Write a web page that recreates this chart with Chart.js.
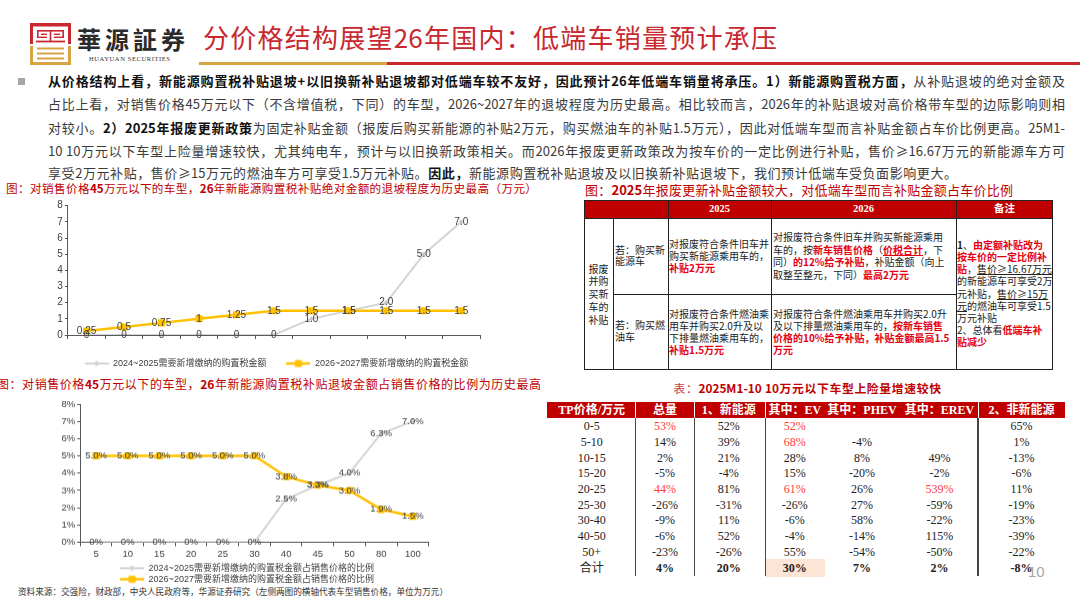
<!DOCTYPE html>
<html><head><meta charset="utf-8">
<script src="https://cdn.jsdelivr.net/npm/chart.js@4.4.1/dist/chart.umd.min.js"></script>
<style>
html,body{margin:0;padding:0;width:1080px;height:597px;overflow:hidden;background:#fff;font-family:"Noto Sans CJK SC",sans-serif;}
.abs{position:absolute;}
.jl{text-align:justify;text-align-last:justify;white-space:normal;overflow:hidden;}
.body{font-size:13px;line-height:18px;height:18px;color:#3a3a3a;}
.body b{color:#111;font-weight:bold;}
.cap{font-size:12px;line-height:16px;height:16px;color:#c00000;}
.t{position:absolute;font-size:10px;line-height:12px;white-space:nowrap;color:#222;}
.r{color:#e60012;font-weight:bold;}
.u{text-decoration:underline;}
.hd{position:absolute;font-family:"Liberation Serif","Noto Sans CJK SC",serif;font-weight:bold;color:#fff;font-size:10.5px;line-height:12px;text-align:center;white-space:nowrap;}
.ln{position:absolute;background:#222;}
.cell{position:absolute;width:80px;text-align:center;font-family:"Liberation Serif","Noto Sans CJK SC",serif;font-size:12px;line-height:14px;color:#222;white-space:nowrap;}
.th{position:absolute;width:90px;text-align:center;font-family:"Liberation Serif","Noto Sans CJK SC",serif;font-size:12px;line-height:14px;color:#fff;font-weight:bold;white-space:nowrap;}
</style></head><body>

<!-- logo -->
<div class="abs" style="left:30px;top:23px;width:41px;height:42px;">
<svg width="41" height="42" viewBox="0 0 41 42">
  <g fill="#c8282e">
    <rect x="0" y="0" width="41" height="3.5"/>
    <rect x="0" y="0" width="3" height="21"/>
    <rect x="38" y="0" width="3" height="21"/>
    <rect x="7" y="7" width="27" height="1.6"/>
    <rect x="7" y="7" width="1.6" height="7.5"/>
    <rect x="32.4" y="7" width="1.6" height="7.5"/>
    <rect x="19.7" y="7" width="1.6" height="11"/>
    <rect x="11" y="10.6" width="6" height="1.4"/>
    <rect x="24" y="10.6" width="6" height="1.4"/>
    <rect x="7" y="13.6" width="10" height="1.4"/>
    <rect x="24" y="13.6" width="10" height="1.4"/>
    <rect x="6" y="17.6" width="29" height="1.8"/>
  </g>
  <g fill="#d6a443">
    <rect x="0" y="23" width="3" height="19"/>
    <rect x="38" y="23" width="3" height="19"/>
    <rect x="7" y="24.5" width="27" height="2"/>
    <rect x="7" y="29.5" width="27" height="2"/>
    <rect x="7" y="34.5" width="27" height="2"/>
    <rect x="0" y="39" width="41" height="3"/>
  </g>
</svg></div>
<div class="abs jl" style="left:77px;top:25px;width:108px;height:28px;font-size:24px;line-height:28px;font-weight:bold;color:#2b2b2b;">華源証券</div>
<div class="abs" style="left:89px;top:55px;font-family:'Liberation Serif',serif;font-size:6.5px;line-height:8px;letter-spacing:0.6px;color:#333;white-space:nowrap;">HUAYUAN SECURITIES</div>
<div class="abs jl" style="left:203px;top:21px;width:574px;height:32px;font-size:26px;line-height:32px;color:#c8282e;">分价格结构展望26年国内：低端车销量预计承压</div>
<div class="abs" style="left:199px;top:62px;width:188px;height:3px;background:#d6a443;"></div>
<div class="abs" style="left:387px;top:62px;width:693px;height:3px;background:#c8282e;"></div>

<!-- body text -->
<div class="abs" style="left:18px;top:78px;width:7px;height:7px;background:#a6a6a6;"></div>
<div class="abs jl body" style="left:48px;top:72px;width:1017px;"><b>从价格结构上看，新能源购置税补贴退坡+以旧换新补贴退坡都对低端车较不友好，因此预计26年低端车销量将承压。1）新能源购置税方面，</b>从补贴退坡的绝对金额及</div>
<div class="abs jl body" style="left:48px;top:95.3px;width:1017px;">占比上看，对销售价格45万元以下（不含增值税，下同）的车型，2026~2027年的退坡程度为历史最高。相比较而言，2026年的补贴退坡对高价格带车型的边际影响则相</div>
<div class="abs jl body" style="left:48px;top:118.7px;width:1017px;">对较小。<b>2）2025年报废更新政策</b>为固定补贴金额（报废后购买新能源的补贴2万元，购买燃油车的补贴1.5万元），因此对低端车型而言补贴金额占车价比例更高。25M1-</div>
<div class="abs jl body" style="left:48px;top:142px;width:1017px;">10 10万元以下车型上险量增速较快，尤其纯电车，预计与以旧换新政策相关。而2026年报废更新政策改为按车价的一定比例进行补贴，售价≥16.67万元的新能源车方可</div>
<div class="abs jl body" style="left:48px;top:164.3px;width:909px;">享受2万元补贴，售价≥15万元的燃油车方可享受1.5万元补贴。<b>因此，</b>新能源购置税补贴退坡及以旧换新补贴退坡下，我们预计低端车受负面影响更大。</div>

<!-- captions -->
<div class="abs jl cap" style="left:6px;top:180px;width:531px;font-size:11.6px;">图：对销售价格<b>45</b>万元以下的车型，<b>26</b>年新能源购置税补贴绝对金额的退坡程度为历史最高（万元）</div>
<div class="abs jl cap" style="left:-3px;top:376px;width:544px;">图：对销售价格<b>45</b>万元以下的车型，<b>26</b>年新能源购置税补贴退坡金额占销售价格的比例为历史最高</div>
<div class="abs jl cap" style="left:585px;top:181.7px;width:428px;font-size:13px;">图：<b>2025</b>年报废更新补贴金额较大，对低端车型而言补贴金额占车价比例更高</div>
<div class="abs jl cap" style="left:673.6px;top:380.3px;width:267.4px;font-size:11.8px;"><span style="color:#c84040;">表：</span><b>2025M1-10 10万元以下车型上险量增速较快</b></div>
<div class="abs jl" style="left:18px;top:585px;width:430px;height:12px;font-size:8.6px;line-height:12px;color:#333;">资料来源：交强险，财政部，中央人民政府等，华源证券研究（左侧两图的横轴代表车型销售价格，单位为万元）</div>

<!-- charts -->
<div class="abs" style="left:0px;top:195px;width:540px;height:183px;"><canvas id="c1"></canvas></div>
<div class="abs" style="left:0px;top:390px;width:540px;height:202.8px;"><canvas id="c2"></canvas></div>

<!-- policy table (top right) -->
<div class="abs" style="left:585px;top:200px;width:468px;height:18px;background:#c00000;"></div>
<div class="abs" style="left:584px;top:199.5px;width:469px;height:170.5px;border:1px solid #222;box-sizing:border-box;"></div>
<div class="ln" style="left:584px;top:218px;width:469px;height:1px;"></div>
<div class="ln" style="left:613px;top:218px;width:1px;height:152px;"></div>
<div class="ln" style="left:668px;top:200px;width:1px;height:170px;"></div>
<div class="ln" style="left:771px;top:200px;width:1px;height:170px;"></div>
<div class="ln" style="left:956px;top:200px;width:1px;height:170px;"></div>
<div class="ln" style="left:613px;top:294px;width:343px;height:1px;"></div>
<div class="hd" style="left:668px;top:202.7px;width:103px;">2025</div>
<div class="hd" style="left:771px;top:202.7px;width:185px;">2026</div>
<div class="hd" style="left:956px;top:202.7px;width:97px;">备注</div>

<div class="t" style="left:584px;width:29px;text-align:center;top:262.7px;">报废</div>
<div class="t" style="left:584px;width:29px;text-align:center;top:275.4px;">并购</div>
<div class="t" style="left:584px;width:29px;text-align:center;top:288.2px;">买新</div>
<div class="t" style="left:584px;width:29px;text-align:center;top:300.9px;">车的</div>
<div class="t" style="left:584px;width:29px;text-align:center;top:313.7px;">补贴</div>

<div class="t" style="left:615px;top:243.7px;">若：购买新</div>
<div class="t" style="left:615px;top:255.3px;">能源车</div>
<div class="t" style="left:615px;top:319.3px;">若：购买燃</div>
<div class="t" style="left:615px;top:331.3px;">油车</div>

<div class="t" style="left:669px;top:237.7px;">对报废符合条件旧车并</div>
<div class="t" style="left:669px;top:250px;">购买新能源乘用车的，</div>
<div class="t" style="left:669px;top:262.3px;"><span class="r">补贴2万元</span></div>
<div class="t" style="left:669px;top:307.5px;">对报废符合条件燃油乘</div>
<div class="t" style="left:669px;top:319.8px;">用车并购买2.0升及以</div>
<div class="t" style="left:669px;top:332.1px;">下排量燃油乘用车的，</div>
<div class="t" style="left:669px;top:344.4px;"><span class="r">补贴1.5万元</span></div>

<div class="t" style="left:773px;top:231.3px;">对报废符合条件旧车并购买新能源乘用</div>
<div class="t" style="left:773px;top:243.7px;">车的，按<span class="r">新车销售价格</span>（<span class="r u">价税合计</span>，下</div>
<div class="t" style="left:773px;top:256.1px;">同）<span class="r">的12%给予补贴</span>，补贴金额（向上</div>
<div class="t" style="left:773px;top:268.5px;">取整至整元，下同）<span class="r">最高2万元</span></div>
<div class="t" style="left:773px;top:307.5px;">对报废符合条件燃油乘用车并购买2.0升</div>
<div class="t" style="left:773px;top:319.8px;">及以下排量燃油乘用车的，<span class="r">按新车销售</span></div>
<div class="t" style="left:773px;top:332.1px;"><span class="r">价格的10%给予补贴，补贴金额最高1.5</span></div>
<div class="t" style="left:773px;top:344.4px;"><span class="r">万元</span></div>

<div class="t" style="left:957px;top:238.7px;"><b>1</b>、<span class="r">由定额补贴改为</span></div>
<div class="t" style="left:957px;top:250.9px;"><span class="r">按车价的一定比例补</span></div>
<div class="t" style="left:957px;top:263.1px;"><span class="r">贴</span>，<span class="u">售价≥16.67万元</span></div>
<div class="t" style="left:957px;top:275.3px;">的新能源车可享受2万</div>
<div class="t" style="left:957px;top:287.5px;">元补贴，<span class="u">售价≥15万</span></div>
<div class="t" style="left:957px;top:299.7px;"><span class="u">元</span>的燃油车可享受1.5</div>
<div class="t" style="left:957px;top:311.9px;">万元补贴</div>
<div class="t" style="left:957px;top:324.1px;">2、总体看<span class="r">低端车补</span></div>
<div class="t" style="left:957px;top:336.3px;"><span class="r">贴减少</span></div>

<!-- insurance growth table (bottom right) -->
<div class="abs" style="left:546.9px;top:402.1px;width:518.2px;height:16.2px;background:#c00000;"></div>
<div class="abs" style="left:765.5px;top:558.8px;width:59.6px;height:17.9px;background:#fce4d6;"></div>
<div id="tp"></div>
<div class="abs" style="left:1028px;top:563px;font-family:'Liberation Sans',sans-serif;font-size:15px;line-height:18px;color:#a6a6a6;">10</div>

<script>
// ---------- chart data ----------
const priceCats = ['5','10','15','20','25','30','40','45','50','80','100'];
const taxAmt2425 = [0, 0, 0, 0, 0, 0, 1.0, 1.5, 2.0, 5.0, 7.0];
const taxAmt2627 = [0.25, 0.5, 0.75, 1, 1.25, 1.5, 1.5, 1.5, 1.5, 1.5, 1.5];
const taxPct2425 = [0, 0, 0, 0, 0, 0, 2.5, 3.3, 4.0, 6.3, 7.0];
const taxPct2627 = [5.0, 5.0, 5.0, 5.0, 5.0, 5.0, 3.8, 3.3, 3.0, 1.9, 1.5];
const seriesNames1 = ['2024~2025需要新增缴纳的购置税金额', '2026~2027需要新增缴纳的购置税金额'];
const seriesNames2 = ['2024~2025需要新增缴纳的购置税金额占销售价格的比例', '2026~2027需要新增缴纳的购置税金额占销售价格的比例'];
const yRange = [0, 8];

// ---------- table data ----------
const tpHeaders = ['TP价格/万元', '总量', '1、新能源', '其中：EV', '其中：PHEV', '其中：EREV', '2、非新能源'];
const tpBands = ['0-5', '5-10', '10-15', '15-20', '20-25', '25-30', '30-40', '40-50', '50+', '合计'];
const tpTotal = ['53%', '14%', '2%', '-5%', '44%', '-26%', '-9%', '-6%', '-23%', '4%'];
const tpNEV   = ['52%', '39%', '21%', '-4%', '81%', '-31%', '11%', '52%', '-26%', '20%'];
const tpEV    = ['52%', '68%', '28%', '15%', '61%', '-26%', '-6%', '-4%', '55%', '30%'];
const tpPHEV  = ['', '-4%', '8%', '-20%', '26%', '27%', '58%', '-14%', '-54%', '7%'];
const tpEREV  = ['', '', '49%', '-2%', '539%', '-59%', '-22%', '115%', '-50%', '2%'];
const tpICE   = ['65%', '1%', '-13%', '-6%', '11%', '-19%', '-23%', '-39%', '-22%', '-8%'];
const tpRed = ['0-1', '0-3', '1-3', '4-1', '4-3', '4-5'];

// ---------- build table ----------
(function () {
  const colX = [591.7, 665, 728.7, 794.8, 862, 939.5, 1021.4];
  const lineX = [635.7, 694.6, 765.5, 978];
  const cols = [tpBands, tpTotal, tpNEV, tpEV, tpPHEV, tpEREV, tpICE];
  let h = '';
  lineX.forEach(x => {
    h += `<div class="abs" style="left:${x - 0.5}px;top:402.1px;width:1px;height:16.2px;background:#fff;"></div>`;
    h += `<div class="abs" style="left:${x - 0.75}px;top:418.3px;width:1.5px;height:157.7px;background:#444;"></div>`;
  });
  tpHeaders.forEach((t, j) => {
    h += `<div class="th" style="left:${colX[j] - 45}px;top:403.2px;">${t}</div>`;
  });
  tpBands.forEach((b, i) => {
    const cy = 426.2 + 15.7 * i;
    cols.forEach((col, j) => {
      const red = tpRed.indexOf(i + '-' + j) >= 0;
      const bold = i === tpBands.length - 1 && j > 0;
      const style = (red ? 'color:#ff3b3b;' : '') + (bold ? 'font-weight:bold;' : '');
      h += `<div class="cell" style="left:${colX[j] - 40}px;top:${cy - 7}px;${style}">${col[i]}</div>`;
    });
  });
  document.getElementById('tp').innerHTML = h;
})();

// ---------- charts ----------
const FNT = '"Liberation Sans", "Noto Sans CJK SC", sans-serif';
const TXT = '#404040';
const AX = '#595959';
const ORANGE = '#ffc000';
const GRAY = '#d4d4d4';
const GRAYM = '#c8c8c8';
Chart.defaults.font.family = FNT;

function legendImg(color, style, lw) {
  const c = document.createElement('canvas');
  c.width = 24; c.height = 10;
  const g = c.getContext('2d');
  g.strokeStyle = color; g.lineWidth = lw;
  g.beginPath(); g.moveTo(0, 5); g.lineTo(24, 5); g.stroke();
  g.fillStyle = color;
  if (style === 'rect') g.fillRect(8.5, 1.5, 7, 7);
  else { g.beginPath(); g.moveTo(12, 2); g.lineTo(15, 5); g.lineTo(12, 8); g.lineTo(9, 5); g.closePath(); g.fill(); }
  return c;
}
const legendImgs = [legendImg(GRAY, 'diamond', 2), legendImg(ORANGE, 'rect', 2.5)];

function legendLabels(chart) {
  const items = Chart.defaults.plugins.legend.labels.generateLabels(chart);
  items.forEach(it => { it.pointStyle = legendImgs[it.datasetIndex]; });
  return items;
}

function pointLabels(fmt, size) {
  return {
    id: 'pointLabels',
    afterDatasetsDraw(chart) {
      const ctx = chart.ctx;
      ctx.save();
      ctx.font = size + 'px "Liberation Sans", sans-serif';
      ctx.fillStyle = TXT;
      ctx.textAlign = 'center';
      ctx.textBaseline = 'middle';
      chart.data.datasets.forEach((ds, di) => {
        chart.getDatasetMeta(di).data.forEach((el, i) => {
          ctx.fillText(fmt(ds.data[i], di), el.x, el.y);
        });
      });
      ctx.restore();
    }
  };
}

function makeChart(id, names, dataA, dataB, o) {
  return new Chart(document.getElementById(id), {
    type: 'line',
    data: {
      labels: priceCats,
      datasets: [
        { label: names[0], data: dataA, borderColor: GRAY, backgroundColor: GRAYM, borderWidth: 2,
          pointStyle: 'rectRot', pointRadius: 2.5, pointBackgroundColor: GRAYM, pointBorderWidth: 0, order: 1 },
        { label: names[1], data: dataB, borderColor: ORANGE, backgroundColor: ORANGE, borderWidth: 2.5,
          pointStyle: 'rect', pointRadius: 5, pointBackgroundColor: ORANGE, pointBorderWidth: 0, order: 0 }
      ]
    },
    options: {
      responsive: true, maintainAspectRatio: false, animation: false,
      layout: { padding: o.pad },
      scales: {
        x: {
          offset: true,
          grid: { display: true, offset: true, drawOnChartArea: false, drawTicks: true, tickLength: 4, color: AX },
          border: { color: AX, width: 1 },
          ticks: { color: TXT, font: { size: o.tick, family: FNT }, padding: o.xpad, maxRotation: 0, autoSkip: false },
          afterFit: s => { s.height = o.xh; }
        },
        y: {
          min: yRange[0], max: yRange[1],
          ticks: { stepSize: 1, color: TXT, font: { size: o.tick, family: FNT }, padding: 2, callback: o.ytick },
          grid: { display: true, drawOnChartArea: false, drawTicks: true, tickLength: 3, color: AX },
          border: { color: AX, width: 1 },
          afterFit: s => { s.width = o.yw; }
        },
        yR: {
          position: 'right', display: true,
          grid: { display: false }, border: { display: false }, ticks: { display: false },
          afterFit: s => { s.width = o.yr; }
        }
      },
      plugins: {
        legend: {
          position: 'bottom',
          labels: {
            usePointStyle: true, pointStyleWidth: 24, padding: o.lpad, color: TXT,
            font: { size: 9, family: FNT },
            generateLabels: legendLabels,
            sort: (a, b) => a.datasetIndex - b.datasetIndex
          }
        },
        tooltip: { enabled: false }
      }
    },
    plugins: [pointLabels(o.fmt, o.lab)]
  });
}

makeChart('c1', seriesNames1, taxAmt2425, taxAmt2627, {
  pad: { left: 27.8, right: 15, top: 10.7, bottom: 0 },
  yw: 40, yr: 45, xh: 4, xpad: 2, lpad: 20, tick: 10, lab: 10,
  ytick: v => String(v),
  fmt: (v, di) => di === 0 ? (v === 0 ? '0' : v.toFixed(1)) : String(v)
});

makeChart('c2', seriesNames2, taxPct2425, taxPct2627, {
  pad: { left: 60, right: 106, top: 14, bottom: 0 },
  yw: 20.2, yr: 5.3, xh: 19.3, xpad: 2.5, lpad: 2, tick: 9.5, lab: 9.5,
  ytick: v => v + '%',
  fmt: (v, di) => (di === 0 && v === 0) ? '0%' : v.toFixed(1) + '%'
});
</script>
</body></html>
